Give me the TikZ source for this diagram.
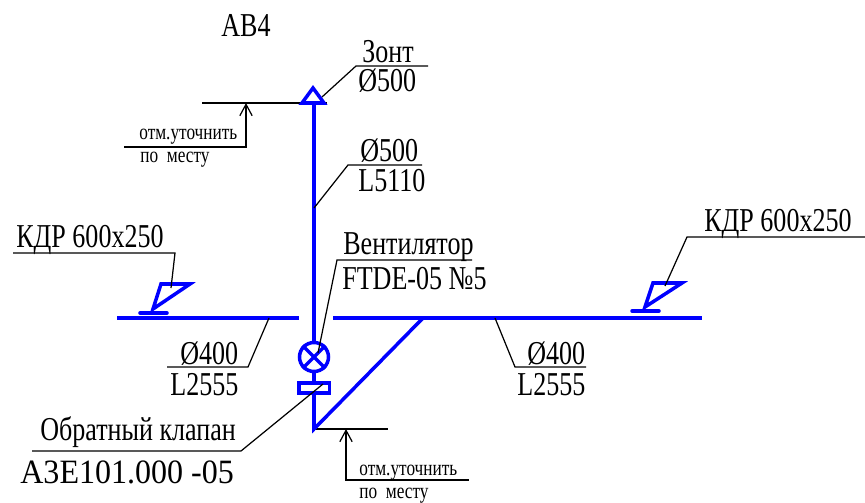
\documentclass[tikz,border=0pt]{standalone}
\usepackage{fontspec}
\setmainfont[FakeStretch=0.78]{Liberation Serif}
\newfontfamily\widefont[FakeStretch=0.94]{Liberation Serif}
\usetikzlibrary{arrows.meta}
\tikzset{
  duct/.style={draw=blue,line width=2pt},
  lead/.style={draw=black,line width=0.7pt},
  label/.style={anchor=base west,inner sep=0pt,font=\fontsize{19}{22}\selectfont},
  note/.style={anchor=base west,inner sep=0pt,font=\fontsize{12.6}{14}\selectfont},
  wide/.style={anchor=base west,inner sep=0pt,font=\widefont\fontsize{19.4}{22}\selectfont}
}
\begin{document}
\begin{tikzpicture}[x=0.02cm,y=-0.02cm]
  \useasboundingbox (0,0) rectangle (865,503);
  \node[label] (T-1) at (221,37) {АВ4};
  \node[label] (T-2) at (362,63) {Зонт};
  \node[label] (T-3) at (358,92) {Ø500};
  \node[label] (T-4) at (360,162) {Ø500};
  \node[label] (T-5) at (358,192) {L5110};
  \node[label] (T-6) at (16,248) {КДР 600x250};
  \node[label] (T-7) at (704,232) {КДР 600x250};
  \node[label] (T-8) at (343,255) {Вентилятор};
  \node[label] (T-9) at (342,289) {FTDE-05 №5};
  \node[label] (T-10) at (180,364) {Ø400};
  \node[label] (T-11) at (170,395) {L2555};
  \node[label] (T-12) at (527,364) {Ø400};
  \node[label] (T-13) at (517,395) {L2555};
  \node[label] (T-14) at (40,440) {Обратный клапан};
  \node[wide] (T-15) at (20,483) {А3Е101.000 -05};
  \node[note] (N-1) at (139,140) {отм.уточнить};
  \node[note] (N-2) at (140,163) {по\ \ месту};
  \node[note] (N-3) at (359,475) {отм.уточнить};
  \node[note] (N-4) at (359,498) {по\ \ месту};

  \coordinate (A-1) at (202,103);
  \coordinate (A-2) at (327,103);
  \coordinate (A-3) at (246,103);
  \coordinate (A-4) at (246,147);
  \coordinate (A-5) at (124,147);
  \coordinate (B-1) at (314,429);
  \coordinate (B-2) at (388,429);
  \coordinate (B-3) at (346,429);
  \coordinate (B-4) at (346,480);
  \coordinate (B-5) at (469,480);
  \draw[lead] (A-1) -- (A-2);
  \draw[lead,{Straight Barb[length=6.5pt,width=7pt]}-] (A-3) -- (A-4) -- (A-5);
  \draw[lead] (B-1) -- (B-2);
  \draw[lead,{Straight Barb[length=6.5pt,width=7pt]}-] (B-3) -- (B-4) -- (B-5);

  \coordinate (C-1) at (314,103);
  \coordinate (C-2) at (314,342);
  \coordinate (C-3) at (314,372);
  \coordinate (C-4) at (314,383);
  \coordinate (C-5) at (314,393);
  \coordinate (D-1) at (117,318);
  \coordinate (D-2) at (299,318);
  \coordinate (D-3) at (333,318);
  \coordinate (D-4) at (702,318);
  \coordinate (D-5) at (423,318);
  \draw[duct] (C-1) -- (C-2);
  \draw[duct] (C-3) -- (C-4);
  \draw[duct] (C-5) -- (B-1) -- (D-5);
  \draw[duct] (D-1) -- (D-2);
  \draw[duct] (D-3) -- (D-4);
  \draw[duct,line join=miter] (302,103) -- (313,88) -- (324,103) -- cycle;
  \node[draw=blue,line width=2pt,circle,minimum size=0.58cm,inner sep=0pt] (F-1) at (314,357) {};
  \draw[duct] (F-1.45) -- (F-1.225);
  \draw[duct] (F-1.135) -- (F-1.315);
  \draw[duct] (299,383) rectangle (329.5,393);
  \draw[duct] (161,284) -- (190,284) -- (153,309) -- cycle;
  \draw[duct,line cap=round] (140,313) -- (167,313);
  \draw[duct] (653,283) -- (682,283) -- (645,307) -- cycle;
  \draw[duct,line cap=round] (632,311) -- (659,311);

  \draw[lead] (322,97) -- (356,66) -- (428,66);
  \draw[lead] (314,208) -- (348,165) -- (422,165);
  \draw[lead] (171,288) -- (175,253) -- (13,253);
  \draw[lead] (665,286) -- (687,237) -- (865,237);
  \draw[lead] (318,353) -- (337,260) -- (472,260);
  \draw[lead] (269,318) -- (248,367) -- (167,367);
  \draw[lead] (495,318) -- (515,367) -- (586,367);
  \draw[lead] (323,384) -- (241,451) -- (32,451);
\end{tikzpicture}
\end{document}
